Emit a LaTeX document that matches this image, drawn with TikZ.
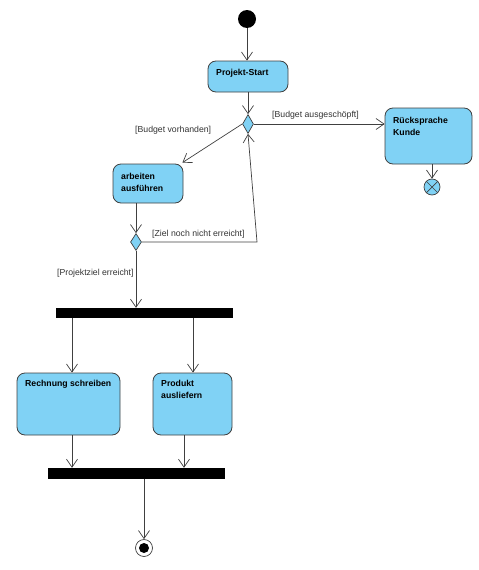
\documentclass[tikz,border=0pt]{standalone}
\usepackage{fontspec}
\setmainfont{Liberation Sans}
\usetikzlibrary{arrows.meta,shapes.geometric,shapes.misc}
\definecolor{actfill}{RGB}{128,210,245}
\definecolor{edge}{RGB}{64,64,64}
\tikzset{
  act/.style={draw=edge,fill=actfill,rounded corners=8pt,line width=0.8pt,inner sep=0pt},
  acttext/.style={anchor=north west,inner sep=0pt,align=left,font=\fontsize{8.7}{12}\selectfont\bfseries},
  guard/.style={inner sep=0pt,font=\fontsize{8.7}{10}\selectfont,text=black!80},
  dec/.style={draw=edge,fill=actfill,diamond,inner sep=0pt,minimum width=11pt,minimum height=19pt,line width=0.7pt},
  bar/.style={fill=black,inner sep=0pt},
  arr/.style={draw=edge,line width=0.7pt,-{Straight Barb[length=8pt,width=11pt,line width=0.7pt]}},
}
\begin{document}
\begin{tikzpicture}[x=1pt,y=-1pt]
\useasboundingbox (0,0) rectangle (479,570);
% nodes
\node[circle,fill=black,minimum size=18pt,inner sep=0pt] (start) at (247,19) {};
\node[act,minimum width=80pt,minimum height=31pt] (ps) at (248,76.5) {};
\node[acttext] (pst) at (216,69) {Projekt-Start};
\node[dec] (d1) at (248,124) {};
\node[act,minimum width=87pt,minimum height=56pt] (rk) at (428.5,136) {};
\node[acttext] (rkt) at (393,116.5) {Rücksprache\\Kunde};
\node[circle,draw=edge,fill=actfill,minimum size=16pt,inner sep=0pt,line width=0.7pt] (ff) at (432,187) {};
\draw[edge,line width=0.7pt] (ff.north west) -- (ff.south east) (ff.north east) -- (ff.south west);
\node[act,minimum width=70pt,minimum height=39pt] (af) at (148,183.5) {};
\node[acttext] (aft) at (121,172.5) {arbeiten\\ausführen};
\node[dec,minimum height=17pt] (d2) at (136,242) {};
\node[bar,minimum width=177pt,minimum height=10pt] (fork) at (144.5,313) {};
\node[act,minimum width=103pt,minimum height=62pt] (rs) at (68.5,404) {};
\node[acttext] (rst) at (25,380) {Rechnung schreiben};
\node[act,minimum width=79pt,minimum height=62pt] (pa) at (192.5,404) {};
\node[acttext] (pat) at (161,380) {Produkt\\ausliefern};
\node[bar,minimum width=177pt,minimum height=11pt] (join) at (136.5,473.5) {};
\node[circle,draw=edge,fill=white,minimum size=17pt,inner sep=0pt,line width=0.7pt] (fin) at (144,548) {};
\node[circle,fill=black,minimum size=10pt,inner sep=0pt] (fininner) at (fin.center) {};
% guards
\node[guard,anchor=west] (g1) at (272,115.5) {[Budget ausgeschöpft]};
\node[guard,anchor=west] (g2) at (135,130.5) {[Budget vorhanden]};
\node[guard,anchor=west] (g3) at (152,234.5) {[Ziel noch nicht erreicht]};
\node[guard,anchor=west] (g4) at (57,273) {[Projektziel erreicht]};
% helper coordinates
\coordinate (loopc) at (257,242);
\coordinate (xa) at (136,0);
\coordinate (xr) at (72,0);
\coordinate (xp1) at (193,0);
\coordinate (xp2) at (184,0);
\coordinate (xk) at (432,0);
% connectors
\draw[arr] (start) -- (ps.north -| start);
\draw[arr] (ps.south -| d1) -- (d1.north);
\draw[arr] (d1.east) -- (rk.west |- d1.east);
\draw[arr] (rk.south -| xk) -- (ff.north);
\draw[arr] (d1.west) -- ([xshift=-1pt,yshift=1pt]af.north east);
\draw[arr] (af.south -| xa) -- (d2.north);
\draw[arr] (d2.east) -- (loopc) -- (d1.south);
\draw[arr] (d2.south) -- (fork.north -| xa);
\draw[arr] (fork.south -| xr) -- (rs.north -| xr);
\draw[arr] (fork.south -| xp1) -- (pa.north -| xp1);
\draw[arr] (rs.south -| xr) -- (join.north -| xr);
\draw[arr] (pa.south -| xp2) -- (join.north -| xp2);
\draw[arr] (join.south -| fin) -- (fin.north);
\end{tikzpicture}
\end{document}
